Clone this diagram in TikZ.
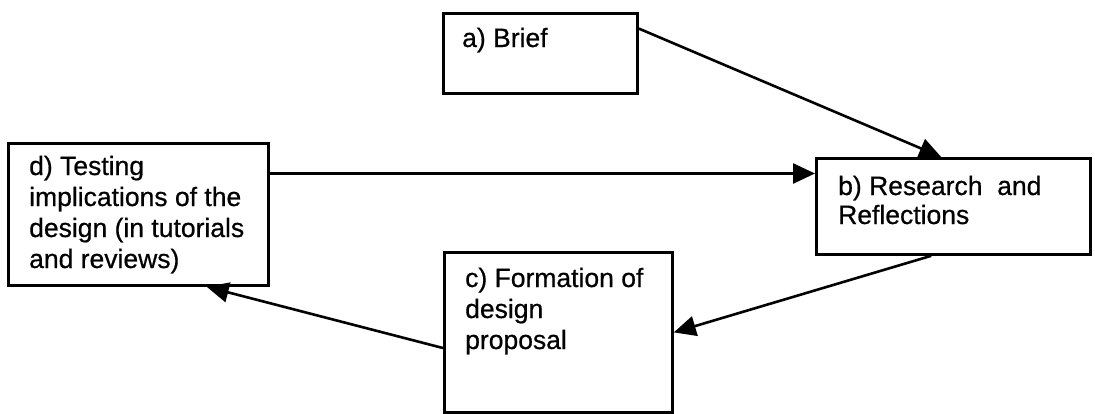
\documentclass[tikz,border=0pt]{standalone}
\usepackage{fontspec}
\newfontfamily\labelfont[FakeBold=0.6]{Liberation Sans}
\usetikzlibrary{arrows.meta,calc}

\tikzset{
  box/.style={draw=black, line width=2.8pt, rectangle, anchor=north west, inner sep=0pt},
  label text/.style={font=\labelfont\fontsize{26.5}{31}\selectfont, inner sep=0pt, anchor=base west},
  flow/.style={draw=black, line width=2.6pt, -{Triangle[length=22pt,width=20pt]}}
}

\begin{document}
\begin{tikzpicture}[x=1pt, y=-1pt]
  \useasboundingbox (0,0) rectangle (1095,413);

  % boxes
  \node[box, minimum width=194pt, minimum height=80pt]  (a) at (442,12)  {};
  \node[box, minimum width=274pt, minimum height=96pt]  (b) at (815,157) {};
  \node[box, minimum width=228pt, minimum height=160pt] (c) at (443,251) {};
  \node[box, minimum width=260pt, minimum height=142pt] (d) at (7,142)   {};

  % box texts (anchored at the baseline of their first line)
  \node[label text] (ta) at (462,47)  {a) Brief};
  \node[label text] (tb) at (838,195) {\parbox[t]{245pt}{\raggedright\baselineskip=29pt b) Research~ and\\Reflections}};
  \node[label text] (tc) at (465,287) {\parbox[t]{205pt}{\raggedright c) Formation of\\design\\proposal}};
  \node[label text] (td) at (29,175)  {\parbox[t]{238pt}{\raggedright d) Testing\\implications of the\\design (in tutorials\\and reviews)}};

  % connector end points on the box borders
  \coordinate (aout) at ($(a.north east)!0.2!(a.south east)$);
  \coordinate (bin1) at ($(b.north west)!0.456!(b.north east)$);
  \coordinate (bin2) at ($(b.north west)!0.167!(b.south west)$);
  \coordinate (bout) at ($(b.south west)!0.42!(b.south east)$);
  \coordinate (cout) at ($(c.north west)!0.596!(c.south west)$);
  \coordinate (din)  at ($(d.south west)!0.76!(d.south east)$);

  % connectors
  \draw[flow] (aout) -- (bin1);
  \draw[flow] (bin2 -| d.east) -- (bin2);
  \draw[flow] (bout) -- (c.east);
  \draw[flow] (cout) -- (din);
\end{tikzpicture}
\end{document}
